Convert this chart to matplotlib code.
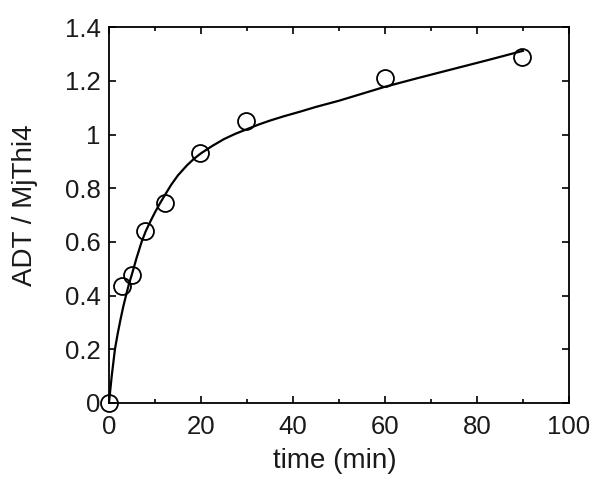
import matplotlib
matplotlib.use("Agg")
import matplotlib.pyplot as plt
from matplotlib.ticker import MultipleLocator, FixedLocator

plt.rcParams['font.family'] = ['Liberation Sans', 'DejaVu Sans']

# measured data
time_pts = [0, 2.9, 5.1, 7.9, 12.2, 19.9, 29.9, 60, 89.9]
adt_pts = [0, 0.435, 0.478, 0.639, 0.745, 0.93, 1.05, 1.21, 1.29]

# fit curve
fit_t = [0, 0.6, 1.3, 1.9, 2.5, 3.1, 3.7, 4.3, 5, 6, 7.1, 8, 9, 10, 11, 12, 13.5, 15, 17,
         18.5, 20, 22.5, 25, 27.5, 30, 32.5, 35, 38, 41.5, 45, 50, 55, 60, 67.5, 75, 82.5, 90]
fit_y = [0, 0.1, 0.2, 0.258, 0.31, 0.358, 0.40, 0.44, 0.48, 0.54, 0.60, 0.64, 0.676, 0.71,
         0.741, 0.77, 0.812, 0.848, 0.886, 0.91, 0.93, 0.958, 0.983, 1.003, 1.02, 1.037,
         1.052, 1.068, 1.085, 1.103, 1.126, 1.152, 1.178, 1.212, 1.245, 1.278, 1.312]

xticks = [0, 20, 40, 60, 80, 100]
yticks = [0, 0.2, 0.4, 0.6, 0.8, 1.0, 1.2, 1.4]
ytick_labels = ['0', '0.2', '0.4', '0.6', '0.8', '1', '1.2', '1.4']

fig = plt.figure(figsize=(6.02, 4.86), dpi=100)
ax = fig.add_axes([0.181, 0.171, 0.764, 0.773])

ax.plot(fit_t, fit_y, color='black', lw=1.6, zorder=2)
ax.plot(time_pts, adt_pts, linestyle='none', marker='o', ms=12.2, mfc='none',
        mec='black', mew=1.3, zorder=3, clip_on=False)

ax.set_xlim(0, 100)
ax.set_ylim(0, 1.4)
ax.xaxis.set_major_locator(FixedLocator(xticks))
ax.xaxis.set_minor_locator(MultipleLocator(10))
ax.yaxis.set_major_locator(FixedLocator(yticks))
ax.set_yticklabels(ytick_labels)
ax.set_xticklabels([str(v) for v in xticks])

ax.tick_params(which='both', direction='in', top=True, right=True, width=1.2,
               labelsize=18.5, colors='black', labelcolor='#1a1a1a')
ax.tick_params(which='major', length=5)
ax.tick_params(axis='x', which='major', pad=9)
ax.tick_params(axis='y', which='major', pad=6)
ax.tick_params(which='minor', length=3)
for s in ax.spines.values():
    s.set_linewidth(1.3)

ax.set_xlabel('time (min)', fontsize=20, color='#1a1a1a')
ax.set_ylabel('ADT / MjThi4', fontsize=20, color='#1a1a1a')
ax.xaxis.set_label_coords(0.492, -0.12)
ax.yaxis.set_label_coords(-0.154, 0.527)

fig.savefig('out.png', dpi=100)
